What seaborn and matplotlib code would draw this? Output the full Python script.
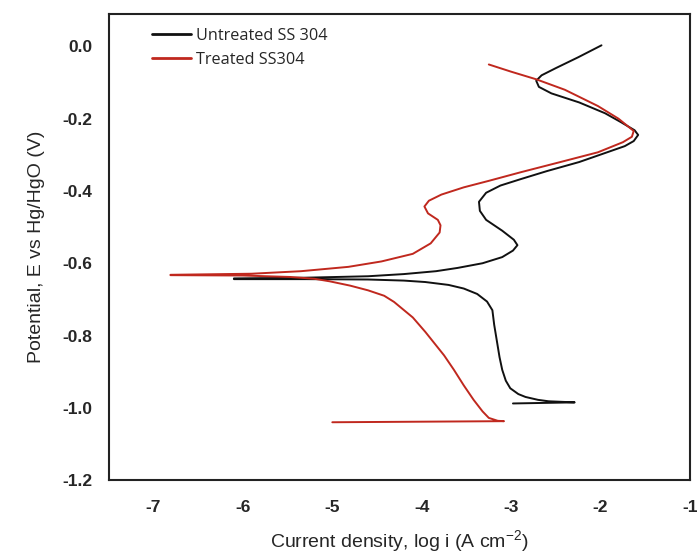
import pandas as pd
import seaborn as sns
import matplotlib.pyplot as plt

# Data (log i, E)
untreated_logi = [-1.99, -2.25, -2.50, -2.66, -2.72, -2.69, -2.55, -2.24, -1.95, -1.77, -1.62,
                  -1.58, -1.63, -1.73, -1.95, -2.24, -2.60, -2.89, -3.12, -3.28, -3.36, -3.35,
                  -3.28, -3.10, -2.97, -2.93, -2.98, -3.10, -3.32, -3.60, -3.84, -4.20, -4.60,
                  -5.30, -6.10,
                  -6.10, -5.30, -4.60, -4.20, -3.96, -3.70, -3.53, -3.38, -3.27, -3.21, -3.19,
                  -3.17, -3.13, -3.10, -3.06, -3.01, -2.92, -2.84, -2.70, -2.58, -2.29, -2.98]
untreated_E = [0.003, -0.030, -0.060, -0.080, -0.095, -0.112, -0.130, -0.155, -0.185, -0.210, -0.232,
               -0.245, -0.262, -0.276, -0.295, -0.320, -0.345, -0.367, -0.385, -0.405, -0.430, -0.455,
               -0.480, -0.510, -0.535, -0.550, -0.565, -0.583, -0.600, -0.613, -0.622, -0.630, -0.636,
               -0.640, -0.642,
               -0.644, -0.644, -0.645, -0.648, -0.652, -0.660, -0.670, -0.685, -0.706, -0.730, -0.770,
               -0.800, -0.860, -0.895, -0.925, -0.946, -0.962, -0.970, -0.978, -0.982, -0.985, -0.988]

treated_logi = [-3.25, -3.00, -2.72, -2.40, -2.03, -1.80, -1.63, -1.65, -1.75, -2.03, -2.45,
                -2.89, -3.25, -3.53, -3.78, -3.92, -3.97, -3.93, -3.82, -3.79, -3.80, -3.90,
                -4.10, -4.45, -4.82, -5.35, -5.90, -6.81,
                -6.81, -6.00, -5.47, -5.20, -5.03, -4.80, -4.60, -4.42, -4.31, -4.10, -3.96,
                -3.75, -3.64, -3.53, -3.42, -3.32, -3.25, -3.15, -3.08, -5.00]
treated_E = [-0.050, -0.070, -0.091, -0.120, -0.165, -0.200, -0.234, -0.250, -0.265, -0.293, -0.320,
             -0.348, -0.372, -0.390, -0.410, -0.427, -0.443, -0.462, -0.480, -0.495, -0.515, -0.545,
             -0.574, -0.595, -0.610, -0.622, -0.629, -0.632,
             -0.633, -0.634, -0.638, -0.643, -0.650, -0.662, -0.675, -0.690, -0.707, -0.750, -0.790,
             -0.855, -0.895, -0.938, -0.978, -1.010, -1.028, -1.036, -1.037, -1.040]

series_names = ['Untreated SS 304', 'Treated SS304']

df = pd.concat([
    pd.DataFrame({'logi': untreated_logi, 'E': untreated_E, 'sample': series_names[0]}),
    pd.DataFrame({'logi': treated_logi, 'E': treated_E, 'sample': series_names[1]}),
], ignore_index=True)

# BUILD GRAPH
sns.set_style('white')
plt.rcParams['font.family'] = ['Liberation Sans', 'DejaVu Sans']

fig = plt.figure(figsize=(6.97, 5.55), dpi=100)
ax = fig.add_axes([0.156, 0.135, 0.834, 0.840])

sns.lineplot(
    data=df, x='logi', y='E', hue='sample', sort=False, estimator=None,
    palette={series_names[0]: '#111111', series_names[1]: '#c0281e'},
    linewidth=1.4, ax=ax
)

ax.set_xlim(-7.5, -1)
ax.set_ylim(-1.2, 0.09)
ax.set_xticks([-7, -6, -5, -4, -3, -2, -1])
ax.set_yticks([0.0, -0.2, -0.4, -0.6, -0.8, -1.0, -1.2])
ax.set_yticklabels(['0.0', '-0.2', '-0.4', '-0.6', '-0.8', '-1.0', '-1.2'])
ax.set_xticklabels(['-7', '-6', '-5', '-4', '-3', '-2', '-1'])
ax.tick_params(axis='x', length=0, labelsize=12.5, pad=14)
ax.tick_params(axis='y', length=0, labelsize=12.5, pad=12)
for lab in ax.get_xticklabels() + ax.get_yticklabels():
    lab.set_fontweight('bold')

for s in ax.spines.values():
    s.set_color('#222222')
    s.set_linewidth(1.5)

ax.set_xlabel('Current density, log i (A cm$^{\\mathregular{-2}}$)', fontsize=14, labelpad=10)
ax.set_ylabel('Potential, E vs Hg/HgO (V)', fontsize=14, labelpad=12)

leg = ax.legend(loc='upper left', frameon=False, bbox_to_anchor=(0.055, 0.995),
                handlelength=2.4, handletextpad=0.3, borderaxespad=0.3, labelspacing=0.5,
                prop={'family': 'Open Sans', 'size': 11.7})
for h in leg.get_lines():
    h.set_linewidth(2)

plt.savefig('out.png', dpi=100)
